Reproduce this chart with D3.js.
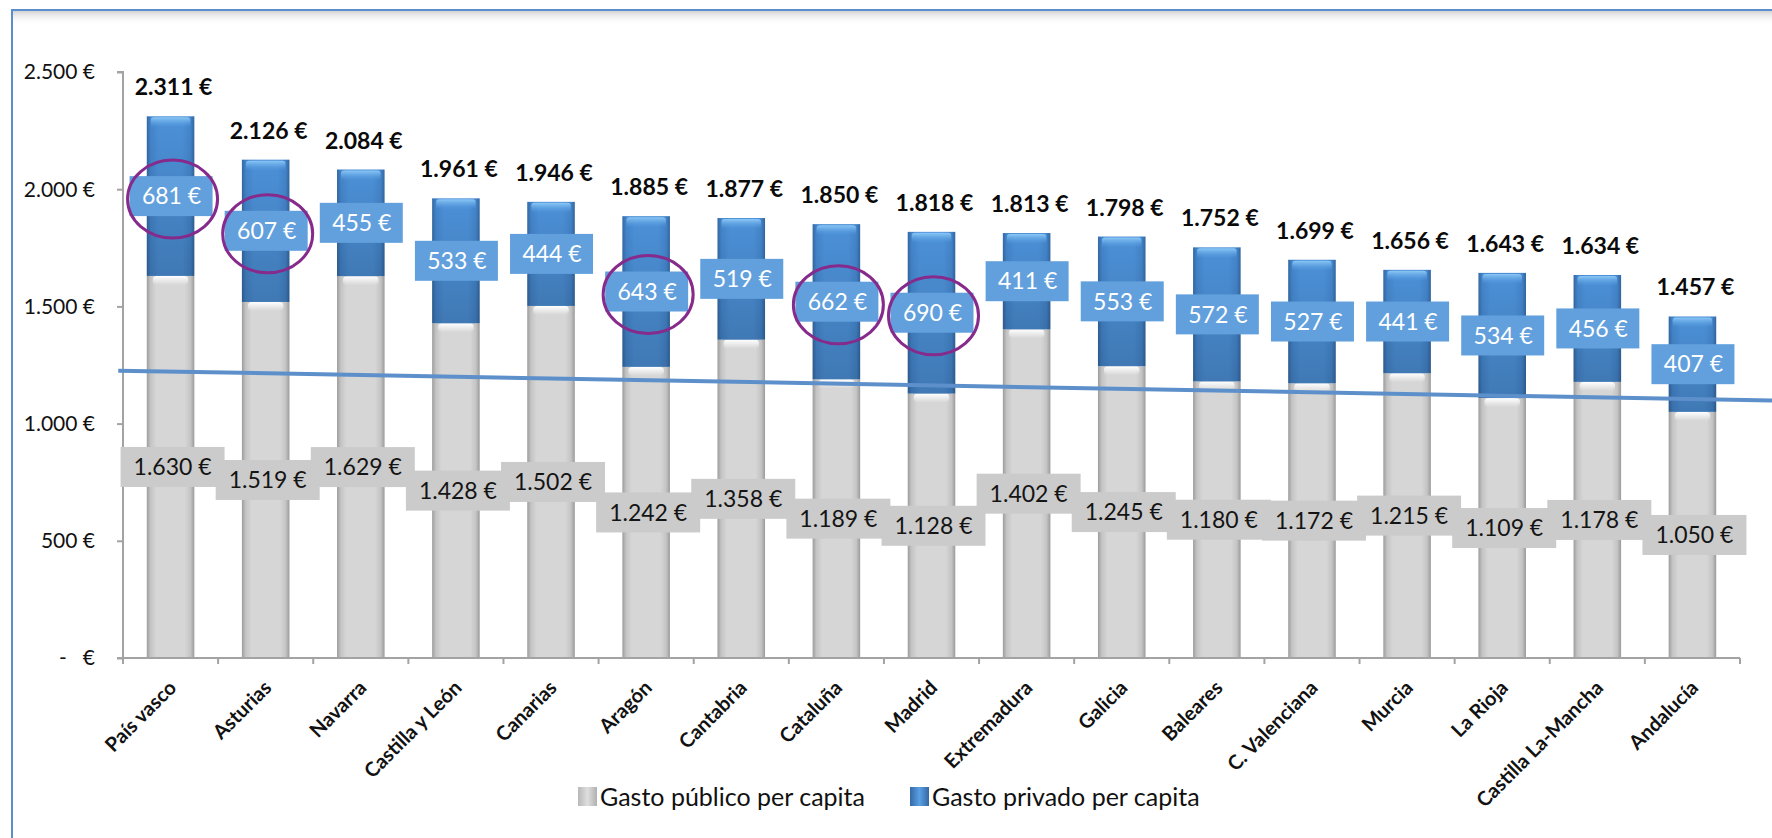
<!DOCTYPE html>
<html>
<head>
<meta charset="utf-8">
<script src="https://cdn.jsdelivr.net/npm/d3@7"></script>
<style>
  html, body { margin: 0; padding: 0; background: #ffffff; }
  svg { display: block; }
  text { font-family: Lato, "Open Sans", sans-serif; }
</style>
</head>
<body>
<svg id="chart" width="1772" height="838"></svg>
<script>
// ---- Data ----
const categories = ["País vasco","Asturias","Navarra","Castilla y León","Canarias","Aragón","Cantabria","Cataluña","Madrid","Extremadura","Galicia","Baleares","C. Valenciana","Murcia","La Rioja","Castilla La-Mancha","Andalucía"];
const publico = [1630,1519,1629,1428,1502,1242,1358,1189,1128,1402,1245,1180,1172,1215,1109,1178,1050];
const privado = [681,607,455,533,444,643,519,662,690,411,553,572,527,441,534,456,407];
const totales = [2311,2126,2084,1961,1946,1885,1877,1850,1818,1813,1798,1752,1699,1656,1643,1634,1457];
const yTicks = [0,500,1000,1500,2000,2500];
const destacados = ["País vasco","Asturias","Aragón","Cataluña","Madrid"];
// reference line (index position along the category axis, value)
const lineaIdx = [-0.55, 16.84];
const lineaVal = [1226, 1098];
const seriesNames = ["Gasto público per capita","Gasto privado per capita"];

// ---- Layout ----
const svg = d3.select("#chart");
const plot = {left: 123, right: 1740, top: 72, bottom: 658};

const x = d3.scaleBand().domain(categories).range([plot.left, plot.right])
  .paddingInner(0.5).paddingOuter(0.25);
const y = d3.scaleLinear().domain([0, 2500]).range([plot.bottom, plot.top]);
const xi = d3.scaleLinear().domain([0, categories.length - 1])
  .range([x(categories[0]) + x.bandwidth()/2, x(categories[categories.length-1]) + x.bandwidth()/2]);

const fmt = d3.formatLocale({decimal: ",", thousands: ".", grouping: [3], currency: ["", ""]}).format(",d");
const eur = v => fmt(v) + " €";

// ---- Defs (gradients) ----
const defs = svg.append("defs");
function hGrad(id, stops) {
  const g = defs.append("linearGradient").attr("id", id).attr("x1","0").attr("x2","1").attr("y1","0").attr("y2","0");
  stops.forEach(s => g.append("stop").attr("offset", s[0]).attr("stop-color", s[1]).attr("stop-opacity", s[2] == null ? 1 : s[2]));
}
function vGrad(id, stops) {
  const g = defs.append("linearGradient").attr("id", id).attr("x1","0").attr("x2","0").attr("y1","0").attr("y2","1");
  stops.forEach(s => g.append("stop").attr("offset", s[0]).attr("stop-color", s[1]).attr("stop-opacity", s[2] == null ? 1 : s[2]));
}
hGrad("gGray", [["0%","#9c9c9c"],["8%","#c4c4c4"],["20%","#d6d6d6"],["80%","#d6d6d6"],["92%","#c4c4c4"],["100%","#9a9a9a"]]);
hGrad("gBlue", [["0%","#3468a3"],["8%","#4384ca"],["25%","#4c90d7"],["75%","#4c90d7"],["92%","#4384ca"],["100%","#33669f"]]);
vGrad("gBlueShade", [["0%","#000000",0],["100%","#000000",0.16]]);
vGrad("gBlueCap", [["0%","#8cc8f6",1],["100%","#5aa2e6",0]]);
vGrad("gGrayCap", [["0%","#ffffff",1],["100%","#ffffff",0]]);
vGrad("gTopShadow", [["0%","#c8c8c8",0.8],["100%","#ffffff",0]]);
hGrad("gLegGray", [["0%","#b8b8b8"],["50%","#dedede"],["100%","#b0b0b0"]]);
hGrad("gLegBlue", [["0%","#3569a6"],["50%","#5aa0e4"],["100%","#3468a3"]]);

// ---- Frame ----
svg.append("rect").attr("x", 12).attr("y", 11).attr("width", 1800).attr("height", 14).attr("fill", "url(#gTopShadow)");
svg.append("rect").attr("x", 12).attr("y", 10).attr("width", 1800).attr("height", 900)
  .attr("fill", "none").attr("stroke", "#5b8fcc").attr("stroke-width", 2);

// ---- Bars ----
const bw = x.bandwidth();
const gBars = svg.append("g");
categories.forEach((c, i) => {
  const x0 = x(c);
  // public (gray)
  gBars.append("rect").attr("x", x0).attr("width", bw)
    .attr("y", y(publico[i])).attr("height", y(0) - y(publico[i]))
    .attr("fill", "url(#gGray)");
  gBars.append("rect").attr("x", x0 + 6).attr("width", bw - 12)
    .attr("y", y(publico[i])).attr("height", 9).attr("rx", 4)
    .attr("fill", "url(#gGrayCap)");
  // private (blue)
  const top = y(publico[i] + privado[i]);
  const h = y(publico[i]) - top;
  gBars.append("rect").attr("x", x0).attr("width", bw)
    .attr("y", top).attr("height", h).attr("fill", "url(#gBlue)");
  gBars.append("rect").attr("x", x0).attr("width", bw)
    .attr("y", top).attr("height", h).attr("fill", "url(#gBlueShade)");
  gBars.append("rect").attr("x", x0 + 4).attr("width", bw - 8)
    .attr("y", top + 1).attr("height", 10).attr("rx", 3)
    .attr("fill", "url(#gBlueCap)");
});

// ---- Axes ----
const axisColor = "#a3a3a3";
const gy = svg.append("g").attr("transform", `translate(${plot.left},0)`)
  .call(d3.axisLeft(y).tickValues(yTicks).tickSize(6).tickFormat(""));
gy.select(".domain").attr("stroke", axisColor).attr("stroke-width", 2).attr("d", `M-6,${y(2500)}H0V${y(0)}`);
gy.selectAll(".tick line").attr("stroke", axisColor).attr("stroke-width", 2);
svg.append("g").selectAll("text").data(yTicks).join("text")
  .attr("x", 95).attr("y", d => y(d)).attr("dy", "0.35em")
  .attr("text-anchor", "end").attr("font-size", 21).attr("fill", "#111")
  .style("white-space", "pre")
  .text(d => d === 0 ? "-   €" : eur(d));

const xEdges = d3.range(categories.length + 1).map(k => plot.left + k * x.step());
const gx = svg.append("g");
gx.append("line").attr("x1", plot.left - 6).attr("x2", plot.right).attr("y1", plot.bottom).attr("y2", plot.bottom)
  .attr("stroke", axisColor).attr("stroke-width", 2);
gx.selectAll("line.tk").data(xEdges).join("line").attr("class", "tk")
  .attr("x1", d => d).attr("x2", d => d).attr("y1", plot.bottom).attr("y2", plot.bottom + 6)
  .attr("stroke", axisColor).attr("stroke-width", 2);

// category labels
svg.append("g").selectAll("text").data(categories).join("text")
  .attr("transform", c => `translate(${x(c) + bw/2 + 7},${plot.bottom + 31}) rotate(-45)`)
  .attr("text-anchor", "end").attr("font-size", 20).attr("font-weight", "bold")
  .attr("fill", "#111").text(c => c);

// ---- Reference line ----
svg.append("line")
  .attr("x1", xi(lineaIdx[0])).attr("y1", y(lineaVal[0]))
  .attr("x2", xi(lineaIdx[1])).attr("y2", y(lineaVal[1]))
  .attr("stroke", "#5d90cb").attr("stroke-width", 4);

// ---- Labels ----
const gl = svg.append("g");
categories.forEach((c, i) => {
  const cx = x(c) + bw/2;
  // public label (gray box)
  const cyP = y(publico[i] / 2);
  gl.append("rect").attr("x", cx + 2 - 52).attr("y", cyP - 20).attr("width", 104).attr("height", 40).attr("fill", "#cbcbcb");
  gl.append("text").attr("x", cx + 2).attr("y", cyP).attr("dy", "0.36em").attr("text-anchor", "middle")
    .attr("font-size", 23).attr("fill", "#141414").text(eur(publico[i]));
  // private label (blue box)
  const cyV = y(publico[i] + privado[i] / 2);
  gl.append("rect").attr("x", cx - 41).attr("y", cyV - 20).attr("width", 83).attr("height", 40).attr("fill", "#62a0dd");
  gl.append("text").attr("x", cx + 1).attr("y", cyV).attr("dy", "0.36em").attr("text-anchor", "middle")
    .attr("font-size", 23).attr("fill", "#ffffff").text(eur(privado[i]));
  // total label
  gl.append("text").attr("x", cx + 3).attr("y", y(publico[i] + privado[i]) - 21).attr("text-anchor", "middle")
    .attr("font-size", 23).attr("font-weight", "bold").attr("fill", "#0a0a0a").text(eur(totales[i]));
  // highlight circles
  if (destacados.includes(c)) {
    gl.append("ellipse").attr("cx", cx + 2).attr("cy", cyV + 3).attr("rx", 45).attr("ry", 39)
      .attr("fill", "none").attr("stroke", "#862a8c").attr("stroke-width", 3);
  }
});

// ---- Legend ----
const leg = svg.append("g");
const legItems = [{name: seriesNames[0], fill: "url(#gLegGray)", x: 578}, {name: seriesNames[1], fill: "url(#gLegBlue)", x: 910}];
legItems.forEach(d => {
  leg.append("rect").attr("x", d.x).attr("y", 787).attr("width", 19).attr("height", 19).attr("fill", d.fill);
  leg.append("text").attr("x", d.x + 22).attr("y", 797).attr("dy", "0.36em")
    .attr("font-size", 25).attr("fill", "#111").text(d.name);
});
</script>
</body>
</html>
